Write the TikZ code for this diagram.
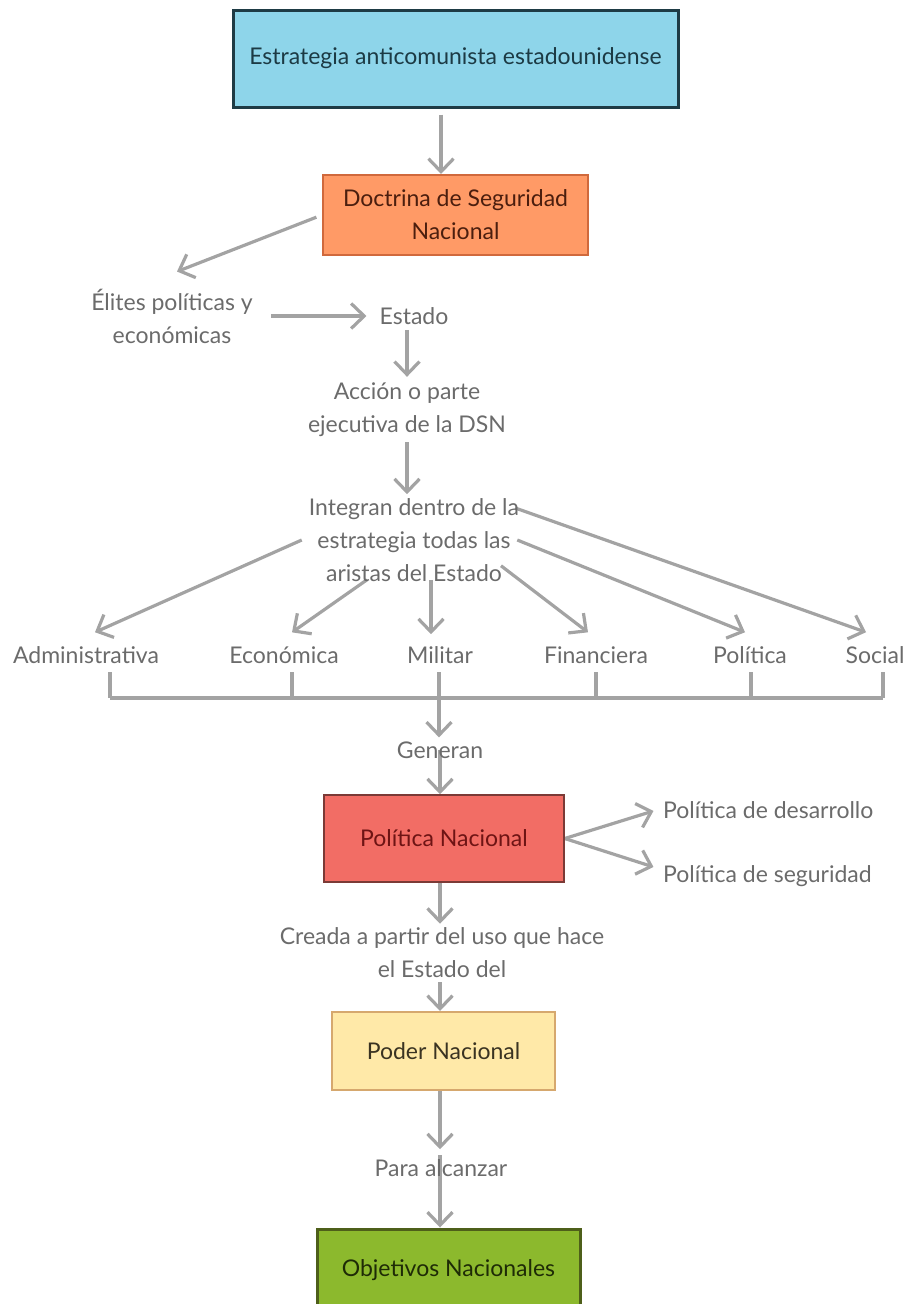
\documentclass[tikz,border=0pt]{standalone}
\usepackage{fontspec}
\setmainfont{Lato}
\usetikzlibrary{arrows.meta}
\pgfdeclarelayer{bg}
\pgfsetlayers{bg,main}
\definecolor{linec}{HTML}{A3A3A3}
\definecolor{txtc}{HTML}{6B6B6B}
\definecolor{c1}{HTML}{8ED5EA}\definecolor{c1b}{HTML}{1E3B45}\definecolor{c1t}{HTML}{1C3A44}
\definecolor{c2}{HTML}{FF9A66}\definecolor{c2b}{HTML}{D0693C}\definecolor{c2t}{HTML}{4B1E0E}
\definecolor{c3}{HTML}{F26D65}\definecolor{c3b}{HTML}{7B3A36}\definecolor{c3t}{HTML}{6E1414}
\definecolor{c4}{HTML}{FFE9A8}\definecolor{c4b}{HTML}{D6A86E}\definecolor{c4t}{HTML}{3A3322}
\definecolor{c5}{HTML}{8CB92D}\definecolor{c5b}{HTML}{4E5F1A}\definecolor{c5t}{HTML}{1E2B06}
\tikzset{
  fnt/.style={font=\fontsize{23}{33}\selectfont},
  box/.style={fnt, rectangle, align=center, inner sep=0pt},
  lbl/.style={fnt, text=txtc, align=center, inner sep=0pt},
  ln/.style={draw=linec, line width=3.2pt},
  arr/.style={ln, -{Straight Barb[length=13pt,width=25pt,line width=3.2pt]}},
}
\begin{document}
\begin{tikzpicture}[x=1pt,y=-1pt]
\clip (0,0) rectangle (906,1304);
% boxes
\node[box, fill=c1, draw=c1b, line width=3pt, text=c1t, minimum width=445pt, minimum height=97pt] (estr) at (455.5,58.5) {Estrategia anticomunista estadounidense};
\node[box, fill=c2, draw=c2b, line width=2pt, text=c2t, minimum width=265pt, minimum height=80pt] (doct) at (455.5,215) {Doctrina de Seguridad\\Nacional};
\node[lbl] (elit) at (172,316) {Élites políticas y\\económicas};
\node[lbl] (esta) at (414,316) {Estado};
\node[lbl] (acci) at (407,410) {Acción o parte\\ejecutiva de la DSN};
\node[lbl] (inte) at (414,540) {Integran dentro de la\\estrategia todas las\\aristas del Estado};
\node[lbl] (adm) at (86,655) {Administrativa};
\node[lbl] (eco) at (284,655) {Económica};
\node[lbl] (mil) at (440,655) {Militar};
\node[lbl] (fin) at (596,655) {Financiera};
\node[lbl] (pol) at (750,655) {Política};
\node[lbl] (soc) at (875,655) {Social};
\node[lbl] (gen) at (440,750) {Generan};
\node[box, fill=c3, draw=c3b, line width=1.5pt, text=c3t, minimum width=240pt, minimum height=87pt] (pnac) at (444,838.5) {Política Nacional};
\node[lbl, anchor=west] (desa) at (663,810) {Política de desarrollo};
\node[lbl, anchor=west] (segu) at (663,876) {Política de seguridad};
\node[lbl] (crea) at (442,953) {Creada a partir del uso que hace\\el Estado del};
\node[box, fill=c4, draw=c4b, line width=2pt, text=c4t, minimum width=223pt, minimum height=78pt] (pode) at (443.5,1051) {Poder Nacional};
\node[lbl] (para) at (441,1168) {Para alcanzar};
\node[box, fill=c5, draw=c5b, line width=3pt, text=c5t, minimum width=263pt, minimum height=82pt] (obje) at (448.5,1270) {Objetivos Nacionales};
% bracket coordinates
\coordinate (v1) at (110,672);
\coordinate (v2) at (292,672);
\coordinate (v3) at (439,672);
\coordinate (v4) at (596,672);
\coordinate (v5) at (751,672);
\coordinate (v6) at (883,672);
\coordinate (bL) at (110,698);
\coordinate (bR) at (883,698);
\begin{pgfonlayer}{bg}
\draw[arr, shorten <=6pt] ([xshift=-14.5pt]estr.south) -- ([xshift=-14.5pt]doct.north);
\draw[arr, shorten <=6pt] (doct.west) -- ([xshift=5pt,yshift=17pt]elit.north);
\draw[arr, shorten <=18pt, shorten >=13pt] (elit.east) -- (esta.west);
\draw[arr, shorten <=5pt] ([xshift=-7pt]esta.south) -- ([yshift=6pt]acci.north);
\draw[arr, shorten <=5pt] (acci.south) -- ([xshift=-7pt,yshift=4pt]inte.north);
\draw[arr] ([xshift=-7pt]inte.west) -- ([xshift=9pt,yshift=14pt]adm.north);
\draw[arr] ([xshift=-47pt,yshift=2pt]inte.south) -- ([xshift=8pt,yshift=14pt]eco.north);
\draw[arr] ([xshift=17pt,yshift=2pt]inte.south) -- ([xshift=-9pt,yshift=12pt]mil.north);
\draw[arr] ([xshift=87pt,yshift=16pt]inte.south) -- ([xshift=-8pt,yshift=14pt]fin.north);
\draw[arr] ([xshift=-2pt]inte.east) -- ([xshift=-5pt,yshift=14pt]pol.north);
\draw[arr] ([xshift=-4pt,yshift=32pt]inte.east) -- ([xshift=-9pt,yshift=14pt]soc.north);
\draw[ln] (bL) -- (bR);
\foreach \v in {v1,v2,v4,v5,v6}{\draw[ln] (\v) -- (\v |- bL);}
\draw[arr] (v3) -- ([xshift=-1pt,yshift=4pt]gen.north);
\draw[arr] (gen.center) -- ([xshift=-4pt]pnac.north);
\draw[arr, shorten >=10pt] (pnac.east) -- ([yshift=2pt]desa.west);
\draw[arr, shorten >=10pt] (pnac.east) -- ([yshift=6pt]segu.west);
\draw[arr] ([xshift=-4pt]pnac.south) -- ([xshift=-2pt,yshift=4pt]crea.north);
\draw[arr, shorten <=4pt] ([xshift=-2pt]crea.south) -- ([xshift=-3.5pt]pode.north);
\draw[arr] ([xshift=-3.5pt]pode.south) -- ([xshift=-1pt,yshift=10pt]para.north);
\draw[arr] ([xshift=-1pt,yshift=4pt]para.north) -- ([xshift=-8.5pt]obje.north);
\end{pgfonlayer}
\end{tikzpicture}
\end{document}
